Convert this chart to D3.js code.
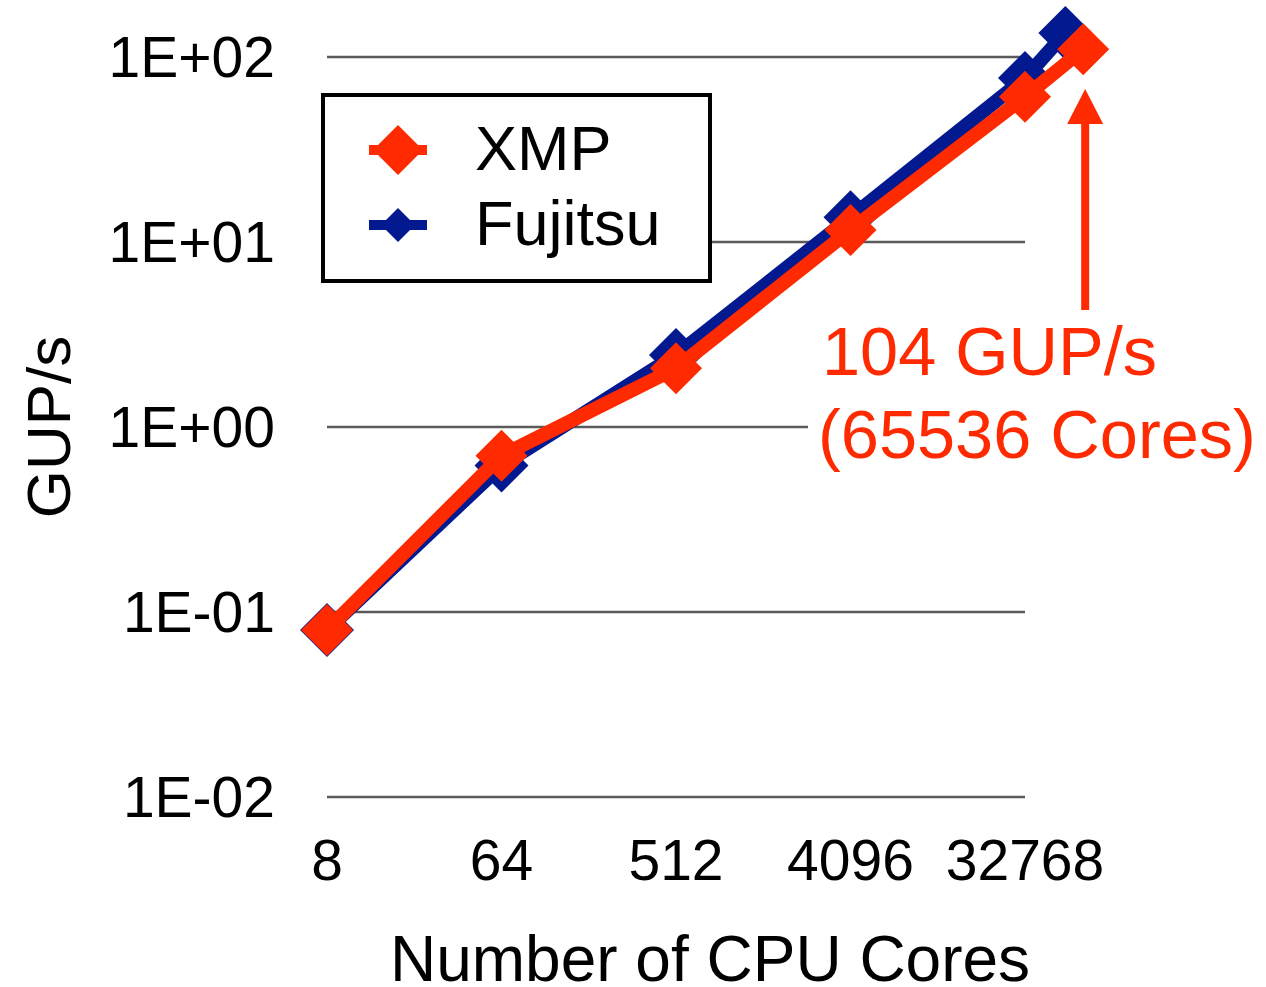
<!DOCTYPE html>
<html>
<head>
<meta charset="utf-8">
<script src="https://cdn.jsdelivr.net/npm/d3@7/dist/d3.min.js"></script>
<style>
  html, body { margin: 0; padding: 0; background: #fff; }
  svg { display: block; font-family: "Liberation Sans", Arial, sans-serif; }
</style>
</head>
<body>
<svg id="chart" width="1266" height="987"></svg>
<script>
// ---- data ----
const xTicks = [8, 64, 512, 4096, 32768];
const yTicks = [0.01, 0.1, 1, 10, 100];
const yTickLabels = ["1E-02", "1E-01", "1E+00", "1E+01", "1E+02"];
const xmpCores = [8, 64, 512, 4096, 32768, 65536];
const xmpGups = [0.08, 0.70, 2.08, 11.6, 61, 110];
const fujitsuCores = [8, 64, 512, 4096, 32768, 53000];
const fujitsuGups = [0.08, 0.62, 2.45, 13.6, 77, 135];
const seriesNames = ["XMP", "Fujitsu"];
const annotationLines = ["104 GUP/s", "(65536 Cores)"];
const xTitle = "Number of CPU Cores";
const yTitle = "GUP/s";

const RED = "#ff2a00";
const BLUE = "#03198f";

const svg = d3.select("#chart");
const x = d3.scaleLog().base(2).domain([8, 32768]).range([327, 1025]);
const y = d3.scaleLog().domain([0.01, 100]).range([797, 57]);

// gridlines
svg.append("g").selectAll("line").data(yTicks).join("line")
  .attr("x1", x(8)).attr("x2", x(32768))
  .attr("y1", d => y(d)).attr("y2", d => y(d))
  .attr("stroke", "#5a5a5a").attr("stroke-width", 2.5);

// y tick labels
svg.append("g").selectAll("text").data(yTicks).join("text")
  .attr("x", 275).attr("y", d => y(d)).attr("dy", "0.35em")
  .attr("text-anchor", "end").attr("font-size", 57).attr("fill", "#000")
  .text((d, i) => yTickLabels[i]);

// x tick labels
svg.append("g").selectAll("text").data(xTicks).join("text")
  .attr("x", d => x(d)).attr("y", 880)
  .attr("text-anchor", "middle").attr("font-size", 57).attr("fill", "#000")
  .text(d => String(d));

// axis titles
svg.append("text").attr("x", 710).attr("y", 981).attr("text-anchor", "middle")
  .attr("font-size", 64).text(xTitle);
svg.append("text").attr("transform", "translate(70,427) rotate(-90)")
  .attr("text-anchor", "middle").attr("font-size", 62).text(yTitle);

// annotation (white backing hides gridline)
svg.append("rect").attr("x", 808).attr("y", 318).attr("width", 458).attr("height", 160).attr("fill", "#fff");
svg.append("g").selectAll("text").data(annotationLines).join("text")
  .attr("x", (d, i) => i === 0 ? 822 : 818)
  .attr("y", (d, i) => i === 0 ? 375 : 458)
  .attr("font-size", 68.5).attr("fill", RED).text(d => d);

// arrow
const ax = x(65536) + 2;
svg.append("line").attr("x1", ax).attr("x2", ax)
  .attr("y1", 310).attr("y2", 118).attr("stroke", RED).attr("stroke-width", 8);
svg.append("path")
  .attr("d", `M${ax},89 L${ax + 18},124 L${ax - 18},124 Z`)
  .attr("fill", RED);

const diamond = (cx, cy, r) => `M${cx},${cy - r} L${cx + r},${cy} L${cx},${cy + r} L${cx - r},${cy} Z`;
const line = d3.line().x(d => x(d[0])).y(d => y(d[1]));

function drawSeries(cores, vals, color, r) {
  const pts = cores.map((c, i) => [c, vals[i]]);
  svg.append("path").datum(pts).attr("d", line)
    .attr("fill", "none").attr("stroke", color).attr("stroke-width", 14)
    .attr("stroke-linejoin", "round");
  svg.append("g").selectAll("path").data(pts).join("path")
    .attr("d", d => diamond(x(d[0]), y(d[1]), r)).attr("fill", color);
}
drawSeries(fujitsuCores, fujitsuGups, BLUE, 27);
drawSeries(xmpCores, xmpGups, RED, 26);

// legend
const lg = svg.append("g");
lg.append("rect").attr("x", 323).attr("y", 95).attr("width", 387).attr("height", 186)
  .attr("fill", "#fff").attr("stroke", "#000").attr("stroke-width", 4);
const legendItems = [
  { name: seriesNames[0], color: RED, r: 25, y: 150 },
  { name: seriesNames[1], color: BLUE, r: 17, y: 225 }
];
legendItems.forEach(it => {
  lg.append("line").attr("x1", 369).attr("x2", 427).attr("y1", it.y).attr("y2", it.y)
    .attr("stroke", it.color).attr("stroke-width", 10);
  lg.append("path").attr("d", diamond(398, it.y, it.r)).attr("fill", it.color);
  lg.append("text").attr("x", 475).attr("y", it.y + 20).attr("font-size", 63).text(it.name);
});
</script>
</body>
</html>
